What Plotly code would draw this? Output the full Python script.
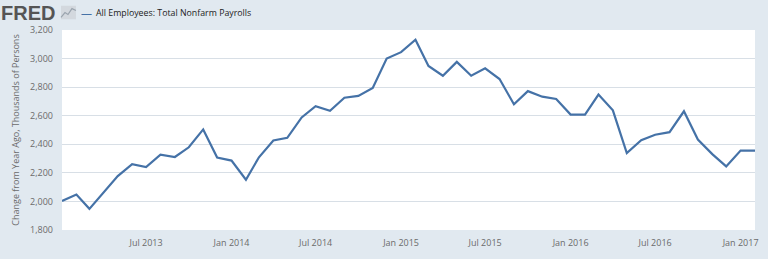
import plotly.graph_objects as go
import pandas as pd

dates = pd.date_range("2013-01-01", "2017-02-01", freq="MS")
values = [
    2003, 2048, 1948, 2063, 2177, 2261, 2241, 2327, 2311, 2379, 2504, 2307,
    2286, 2152, 2309, 2427, 2445, 2588, 2667, 2635, 2726, 2739, 2794, 3000,
    3045, 3132, 2948, 2880, 2977, 2880, 2932, 2857, 2680, 2772,
    2733, 2717, 2608, 2608, 2748, 2638, 2338, 2429, 2467, 2485, 2631, 2433,
    2331, 2245, 2356, 2356,
]
series_name = "All Employees: Total Nonfarm Payrolls"
y_title = "Change from Year Ago, Thousands of Persons"
y_ticks = [1800, 2000, 2200, 2400, 2600, 2800, 3000, 3200]
x_ticks = ["2013-07-01", "2014-01-01", "2014-07-01", "2015-01-01",
           "2015-07-01", "2016-01-01", "2016-07-01", "2017-01-01"]
x_ticktext = ["Jul 2013", "Jan 2014", "Jul 2014", "Jan 2015",
              "Jul 2015", "Jan 2016", "Jul 2016", "Jan 2017"]

line_color = "#4572a7"
bg = "#e1e9f0"
tick_font = dict(family="Open Sans, Noto Sans, sans-serif", size=9, color="#6b6b6b")

fig = go.Figure()
fig.add_trace(go.Scatter(x=dates, y=values, mode="lines",
                         line=dict(color=line_color, width=2.2),
                         name=series_name, showlegend=False))

def px(xp):
    return (xp - 62) / 696

def py(yp):
    return 1 + (30 - yp) / 206

fig.update_layout(
    width=768, height=259,
    margin=dict(l=62, r=10, t=30, b=23),
    paper_bgcolor=bg, plot_bgcolor="white",
    font=tick_font,
    xaxis=dict(
        range=[dates[0], dates[-1]],
        tickvals=x_ticks, ticktext=x_ticktext,
        showgrid=False, ticks="", ticklabelstandoff=6,
        tickfont=tick_font, showline=False, zeroline=False,
    ),
    yaxis=dict(
        range=[1800, 3200], tickvals=y_ticks,
        ticktext=[f"{v:,}" for v in y_ticks],
        gridcolor="#d8dfe6", gridwidth=1, zeroline=False,
        tickfont=tick_font, ticks="", ticklabelstandoff=8,
        title=dict(text=y_title, font=dict(family="Open Sans, Noto Sans, sans-serif", size=9, color="#6b6b6b"), standoff=8),
    ),
    shapes=[
        dict(type="rect", xref="paper", yref="paper", x0=px(61), x1=px(76), y0=py(19), y1=py(5),
             fillcolor="#d3d8de", line=dict(width=0), layer="above"),
        dict(type="path", xref="paper", yref="paper",
             path=f"M {px(61)},{py(17)} L {px(65)},{py(12)} L {px(68)},{py(14)} L {px(72)},{py(8)} L {px(76)},{py(10)}",
             line=dict(color="#9aa4ae", width=1.2), layer="above"),
    ],
    annotations=[
        dict(text="<b>FRED</b>", xref="paper", yref="paper", x=px(-1), y=py(12),
             xanchor="left", yanchor="middle", showarrow=False,
             font=dict(family="Liberation Sans, Arial, sans-serif", size=20, color="#555555")),
        dict(text="—", xref="paper", yref="paper", x=px(79), y=py(12),
             xanchor="left", yanchor="middle", showarrow=False,
             font=dict(family="Open Sans, sans-serif", size=11, color=line_color)),
        dict(text=series_name, xref="paper", yref="paper", x=px(94), y=py(12),
             xanchor="left", yanchor="middle", showarrow=False,
             font=dict(family="Open Sans, sans-serif", size=8.8, color="#222222")),
    ],
)
fig.write_html("out.html")
